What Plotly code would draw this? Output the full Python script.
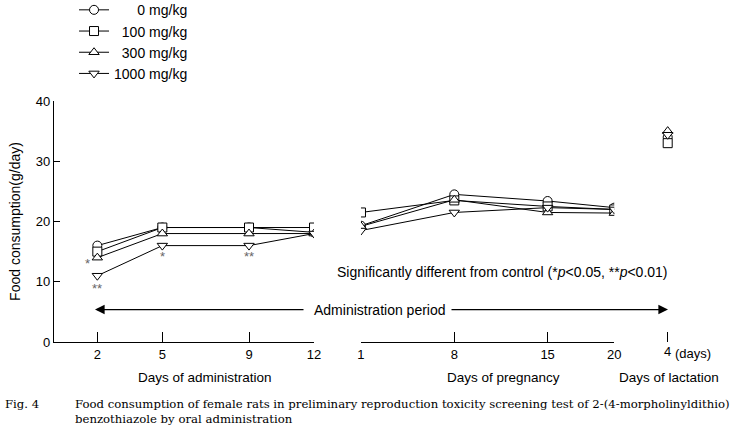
import plotly.graph_objects as go

# ---- data ----
doses = ["0 mg/kg", "100 mg/kg", "300 mg/kg", "1000 mg/kg"]
legend_pad = ["\u00a0" * 6, "\u00a0" * 2, "\u00a0" * 2, ""]
symbols = ["circle", "square", "triangle-up", "triangle-down"]

admin_days = [2, 5, 9, 12]
admin_vals = {
    "0 mg/kg":    [16.0, 19.0, 19.0, 18.2],
    "100 mg/kg":  [15.0, 19.0, 19.0, 19.0],
    "300 mg/kg":  [14.0, 18.0, 18.0, 18.0],
    "1000 mg/kg": [11.0, 16.0, 16.0, 18.0],
}
preg_days = [1, 8, 15, 20]
preg_vals = {
    "0 mg/kg":    [19.3, 24.5, 23.4, 22.3],
    "100 mg/kg":  [21.5, 23.5, 22.5, 22.0],
    "300 mg/kg":  [19.2, 23.6, 21.5, 21.4],
    "1000 mg/kg": [18.5, 21.5, 22.3, 22.0],
}
lact_days = [4]
lact_vals = {
    "0 mg/kg":    [34.0],
    "100 mg/kg":  [33.0],
    "300 mg/kg":  [35.0],
    "1000 mg/kg": [34.4],
}
# significance marks: (axis day, y value, text)
sig_marks = [(1.55, 13.0, "*"), (2, 8.9, "**"), (5, 14.2, "*"), (9, 14.2, "**")]

FONT = "Liberation Sans, Arial, sans-serif"
SERIF = "DejaVu Serif, Liberation Serif, serif"

fig = go.Figure()
for i, d in enumerate(doses):
    mk = dict(symbol=symbols[i], size=9, color="white", line=dict(color="black", width=1))
    ln = dict(color="black", width=1)
    fig.add_trace(go.Scatter(x=admin_days, y=admin_vals[d], mode="lines+markers",
                             marker=mk, line=ln, name=legend_pad[i] + d,
                             legendgroup=d, showlegend=True, xaxis="x", yaxis="y"))
    fig.add_trace(go.Scatter(x=preg_days, y=preg_vals[d], mode="lines+markers",
                             marker=mk, line=ln, name=d, legendgroup=d,
                             showlegend=False, xaxis="x2", yaxis="y"))
    fig.add_trace(go.Scatter(x=lact_days, y=lact_vals[d], mode="markers",
                             marker=mk, name=d, legendgroup=d,
                             showlegend=False, xaxis="x3", yaxis="y"))

ax_common = dict(showline=True, linecolor="black", linewidth=1.3, ticks="inside",
                 ticklen=10, tickcolor="black", tickwidth=1.3, showgrid=False,
                 zeroline=False, tickfont=dict(family=FONT, size=13, color="black"),
                 anchor="y", automargin=False)

fig.update_layout(
    width=734, height=432,
    margin=dict(l=54, r=34, t=101, b=90, autoexpand=False),
    paper_bgcolor="white", plot_bgcolor="white",
    font=dict(family=FONT, size=13, color="black"),
    xaxis=dict(domain=[0, 0.4025], range=[0, 12], tickvals=admin_days,
               ticktext=[str(v) for v in admin_days], **ax_common),
    xaxis2=dict(domain=[0.4752, 0.8673], range=[1, 20], tickvals=preg_days,
                ticktext=[str(v) for v in preg_days], **ax_common),
    xaxis3=dict(domain=[0.9345, 0.9655], range=[3, 5], tickvals=lact_days,
                ticktext=[str(v) for v in lact_days],
                **{**ax_common, "showline": False}),
    yaxis=dict(range=[0, 40], tickvals=[0, 10, 20, 30, 40], showline=True,
               linecolor="black", linewidth=1.3, ticks="inside", ticklen=6,
               tickcolor="black", tickwidth=1.3, showgrid=False, zeroline=False,
               tickfont=dict(family=FONT, size=13, color="black"),
               title=dict(text="Food consumption(g/day)", standoff=11,
                          font=dict(family=FONT, size=14)),
               anchor="x", automargin=False),
    showlegend=True,
    legend=dict(x=0.031, y=1.443, xanchor="left", yanchor="top",
                bgcolor="rgba(0,0,0,0)", font=dict(family=FONT, size=14),
                itemwidth=30, tracegroupgap=0),
)

anns = []
for xd, yv, t in sig_marks:
    anns.append(dict(x=xd, y=yv, xref="x", yref="y", text=t, showarrow=False,
                     xanchor="center", yanchor="middle",
                     font=dict(family=FONT, size=13, color="#666666")))

def px(xpix):
    return (xpix - 54) / 646.0

def py(ypix):
    return (342.5 - ypix) / 241.5

def note(text, xpix, ypix, xanchor="center", size=13, family=FONT):
    return dict(x=px(xpix), y=py(ypix), xref="paper", yref="paper", text=text,
                xanchor=xanchor, yanchor="middle", showarrow=False,
                font=dict(family=family, size=size, color="black"))

# administration period arrows
anns.append(dict(x=px(95), y=py(310), xref="paper", yref="paper", text="",
                 showarrow=True, ax=210, ay=0, arrowhead=2, arrowsize=1.6,
                 arrowwidth=1.2, arrowcolor="black"))
anns.append(dict(x=px(668), y=py(310), xref="paper", yref="paper", text="",
                 showarrow=True, ax=-218, ay=0, arrowhead=2, arrowsize=1.6,
                 arrowwidth=1.2, arrowcolor="black"))
anns.append(note("Administration period", 380, 310, size=14))
anns.append(note("Significantly different from control (*<i>p</i>&lt;0.05, **<i>p</i>&lt;0.01)",
                 502, 272, size=14))
anns.append(note("(days)", 673, 354, xanchor="left", size=13))
for txt, xc in [("Days of administration", 205), ("Days of pregnancy", 503),
                ("Days of lactation", 669)]:
    anns.append(note(txt, xc, 378, size=13.5))
anns.append(note("Fig.\u00a04", 3, 405, xanchor="left", size=11.7, family=SERIF))
anns.append(note("Food consumption of female rats in preliminary reproduction toxicity screening test of 2-(4-morpholinyldithio)",
                 73, 405, xanchor="left", size=11.7, family=SERIF))
anns.append(note("benzothiazole by oral administration", 73, 420, xanchor="left",
                 size=11.7, family=SERIF))
fig.update_layout(annotations=anns)

fig.write_html("out.html", config={"displayModeBar": False},
               post_script="document.body.style.margin='0';")
